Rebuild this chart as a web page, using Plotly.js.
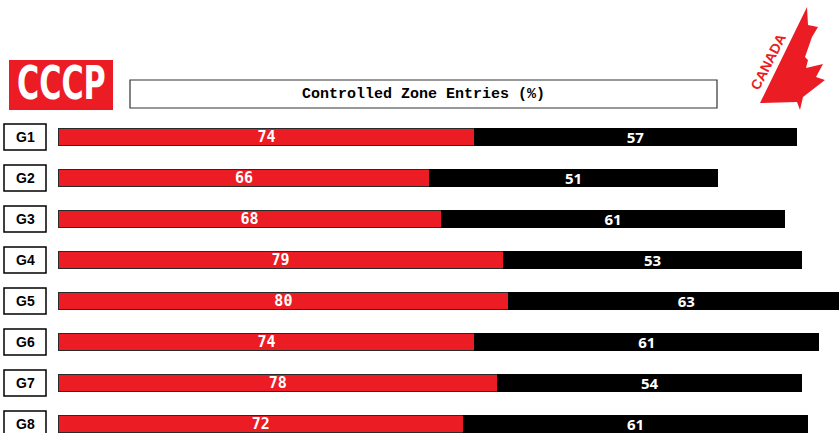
<!DOCTYPE html>
<html>
<head>
<meta charset="utf-8">
<script src="https://cdn.plot.ly/plotly-3.0.1.min.js"></script>
<style>
html,body{margin:0;padding:0;background:#fff;}
#chart{width:839px;height:433px;}
</style>
</head>
<body>
<div id="chart"></div>
<script>
var games = ["G1","G2","G3","G4","G5","G6","G7","G8"];
var cccpValues = [74, 66, 68, 79, 80, 74, 78, 72];
var canadaValues = [57, 51, 61, 53, 63, 61, 54, 61];
var chartTitle = "Controlled Zone Entries (%)";

var W = 839, H = 433, L = 58, R = 0, T = 116, B = 0;
var PW = W - L - R, PH = H - T - B;
function px(x){ return (x - L) / PW; }
function py(y){ return (H - B - y) / PH; }
function pathFrom(pts){
  return pts.map(function(p,i){ return (i ? "L" : "M") + px(p[0]).toFixed(5) + "," + py(p[1]).toFixed(5); }).join(" ") + " Z";
}

var red = "#ec1c24";
var traces = [
  {
    type: "bar", orientation: "h", y: games, x: cccpValues, name: "CCCP",
    marker: {color: red, line: {color: "#2a2a2a", width: 1}},
    width: 0.415,
    text: cccpValues.map(String), textposition: "inside", insidetextanchor: "middle",
    constraintext: "none", textangle: 0,
    textfont: {family: "DejaVu Sans Mono, Liberation Mono, monospace", size: 15, color: "#ffffff", weight: "bold"},
    hoverinfo: "skip"
  },
  {
    type: "bar", orientation: "h", y: games, x: canadaValues, name: "Canada",
    marker: {color: "#000000", line: {color: "#000000", width: 1}},
    width: 0.415,
    text: canadaValues.map(String), textposition: "inside", insidetextanchor: "middle",
    constraintext: "none", textangle: 0,
    textfont: {family: "Open Sans, DejaVu Sans, sans-serif", size: 15, color: "#ffffff", weight: "bold"},
    hoverinfo: "skip"
  }
];

var shapes = [];
var annotations = [];

// Game label boxes
games.forEach(function(g, i){
  var cy = 137 + 41 * i;
  shapes.push({type: "rect", xref: "paper", yref: "paper",
    x0: px(4), x1: px(46), y0: py(cy - 13), y1: py(cy + 13),
    line: {color: "#000", width: 1.5}, fillcolor: "#fff", layer: "above"});
  annotations.push({xref: "paper", yref: "paper", x: px(25), y: py(cy), text: "<b>" + g + "</b>",
    showarrow: false, xanchor: "center", yanchor: "middle",
    font: {family: "Liberation Sans, Arial, sans-serif", size: 14, color: "#000"}});
});

// Title box
shapes.push({type: "rect", xref: "paper", yref: "paper",
  x0: px(130), x1: px(717), y0: py(80), y1: py(108),
  line: {color: "#333", width: 1.2}, fillcolor: "#fff"});
annotations.push({xref: "paper", yref: "paper", x: px(423), y: py(94), text: "<b>" + chartTitle + "</b>",
  showarrow: false, xanchor: "center", yanchor: "middle",
  font: {family: "Liberation Mono, Courier New, monospace", size: 15, color: "#000"}});

// CCCP logo
shapes.push({type: "rect", xref: "paper", yref: "paper",
  x0: px(9), x1: px(113), y0: py(60), y1: py(110),
  line: {width: 0}, fillcolor: red});
annotations.push({xref: "paper", yref: "paper", x: px(61), y: py(84), text: "<b>CCCP</b>",
  showarrow: false, xanchor: "center", yanchor: "middle", name: "cccp-logo",
  font: {family: "DejaVu Sans Condensed, DejaVu Sans, sans-serif", size: 42, color: "#fff"}});

// Canada leaf logo
var leaf = [[807,7],[808,25],[818,27],[812,37],[805,57],[808,60],[806,68],[823,64],[816,77],[825,80],[803,97],[800,110],[797,102],[760,103]];
shapes.push({type: "path", xref: "paper", yref: "paper", path: pathFrom(leaf),
  line: {width: 0}, fillcolor: red});
annotations.push({xref: "paper", yref: "paper", x: px(768), y: py(62), text: "<b>CANADA</b>",
  showarrow: false, xanchor: "center", yanchor: "middle", textangle: -63,
  font: {family: "Liberation Sans, Arial, sans-serif", size: 14, color: red}});

var layout = {
  width: W, height: H,
  margin: {l: L, r: R, t: T, b: B, pad: 0},
  paper_bgcolor: "#fff", plot_bgcolor: "#fff",
  barmode: "stack", showlegend: false,
  xaxis: {range: [0, 138.6], visible: false, fixedrange: true},
  yaxis: {type: "category", categoryarray: games, range: [7.22, -0.512], visible: false, fixedrange: true},
  shapes: shapes, annotations: annotations
};

Plotly.newPlot("chart", traces, layout, {displayModeBar: false, staticPlot: true}).then(function(){
  // narrow the CCCP wordmark to match the condensed logo lettering
  var texts = document.querySelectorAll(".annotation-text");
  texts.forEach(function(t){
    if (t.textContent === "CCCP") {
      t.style.transformBox = "fill-box";
      t.style.transformOrigin = "center";
      t.style.transform = "scale(0.8, 1.1)";
    }
  });
});
</script>
</body>
</html>
